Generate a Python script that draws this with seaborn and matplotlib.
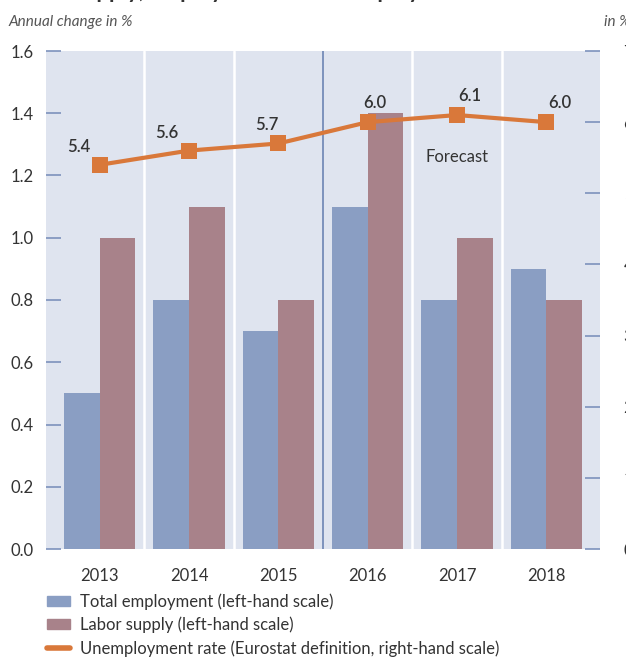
import numpy as np
import pandas as pd
import seaborn as sns
import matplotlib.pyplot as plt
from matplotlib.patches import Patch
from matplotlib.lines import Line2D

# DATOS
anios = ['2013', '2014', '2015', '2016', '2017', '2018']
empleo_total = [0.5, 0.8, 0.7, 1.1, 0.8, 0.9]
oferta_laboral = [1.0, 1.1, 0.8, 1.4, 1.0, 0.8]
tasa_paro = [5.4, 5.6, 5.7, 6.0, 6.1, 6.0]

serie_empleo = 'Total employment (left-hand scale)'
serie_oferta = 'Labor supply (left-hand scale)'
serie_paro = 'Unemployment rate (Eurostat definition, right-hand scale)'

# COLORES
azul = '#8a9ec3'
malva = '#a8828a'
naranja = '#d9783a'
fondo = '#dfe4ef'
linea_tick = '#7d92bc'
gris = '#333333'

sns.set_theme(style='white')
plt.rcParams['font.family'] = ['Lato', 'DejaVu Sans']

df = pd.DataFrame({'anio': anios * 2,
                   'valor': empleo_total + oferta_laboral,
                   'serie': [serie_empleo] * len(anios) + [serie_oferta] * len(anios)})

fig = plt.figure(figsize=(6.26, 6.57), dpi=100)
ax = fig.add_axes([46 / 626, 1 - 549 / 657, 554 / 626, 498 / 657])
ax.set_facecolor(fondo)

sns.barplot(data=df, x='anio', y='valor', hue='serie', order=anios,
            palette=[azul, malva], width=0.8, saturation=1, linewidth=0,
            ax=ax, legend=False, zorder=3)

# separadores verticales
for xs in [0.5, 1.5, 3.5, 4.5]:
    ax.axvline(xs, color='white', lw=1.8, zorder=1)
ax.axvline(2.5, color=linea_tick, lw=1.4, zorder=1)

ax.set_xlim(-0.6, 5.6)
ax.set_ylim(0, 1.6)
ax.set_yticks(np.arange(0, 1.61, 0.2))
ax.set_yticklabels([f'{v:.1f}' for v in np.arange(0, 1.61, 0.2)])
ax.tick_params(axis='y', direction='in', length=11, width=1.2, color=linea_tick,
               pad=9, labelsize=12, labelcolor=gris, left=True)
ax.tick_params(axis='x', length=0, pad=14, labelsize=12, labelcolor=gris)
ax.set_xlabel('')
ax.set_ylabel('')
for s in ax.spines.values():
    s.set_visible(False)

# eje derecho: tasa de paro
ax2 = ax.twinx()
pos = np.arange(len(anios))
sns.lineplot(x=pos, y=tasa_paro, ax=ax2, color=naranja, lw=3, marker='s',
             markersize=12, markeredgewidth=0, zorder=5)
ax2.set_ylim(0, 7)
ax2.set_yticks(range(0, 8))
ax2.tick_params(axis='y', direction='in', length=11, width=1.2, color=linea_tick,
                pad=17, labelsize=12, labelcolor=gris, right=True)
for s in ax2.spines.values():
    s.set_visible(False)
ax2.grid(False)

desplaz = [(-15, 13), (-16, 13), (-8, 13), (5, 14), (9, 14), (10, 14)]
for x, v, (dx, dy) in zip(pos, tasa_paro, desplaz):
    ax2.annotate(f'{v:.1f}', (x, v), xytext=(dx, dy), textcoords='offset points',
                 ha='center', va='center', fontsize=12, fontweight='semibold', color=gris)

ax.text(4, 1.26, 'Forecast', ha='center', va='center', fontsize=12, color=gris, zorder=6)

fig.text(9 / 626, 1 - 22 / 657, 'Annual change in %', fontsize=11, style='italic',
         color='#555555', va='center', ha='left')
fig.text(604 / 626, 1 - 22 / 657, 'in %', fontsize=11, style='italic',
         color='#555555', va='center', ha='left')
# titulo cortado en el borde superior (solo se ven los trazos descendentes)
fig.text(12 / 626, 1 + 2 / 657, 'Labor supply, employment and unemployment', fontsize=16,
         fontweight='bold', color=gris, va='baseline', ha='left')

manejadores = [Patch(color=azul, label=serie_empleo),
               Patch(color=malva, label=serie_oferta),
               Line2D([0], [0], color=naranja, lw=4, label=serie_paro)]
fig.legend(handles=manejadores, loc='upper left', bbox_to_anchor=(47 / 626, 1 - 593 / 657),
           frameon=False, fontsize=12, handlelength=1.4, handleheight=0.55,
           labelspacing=0.42, handletextpad=0.6, borderaxespad=0, borderpad=0,
           labelcolor=gris)

fig.savefig('out.png', dpi=100)
